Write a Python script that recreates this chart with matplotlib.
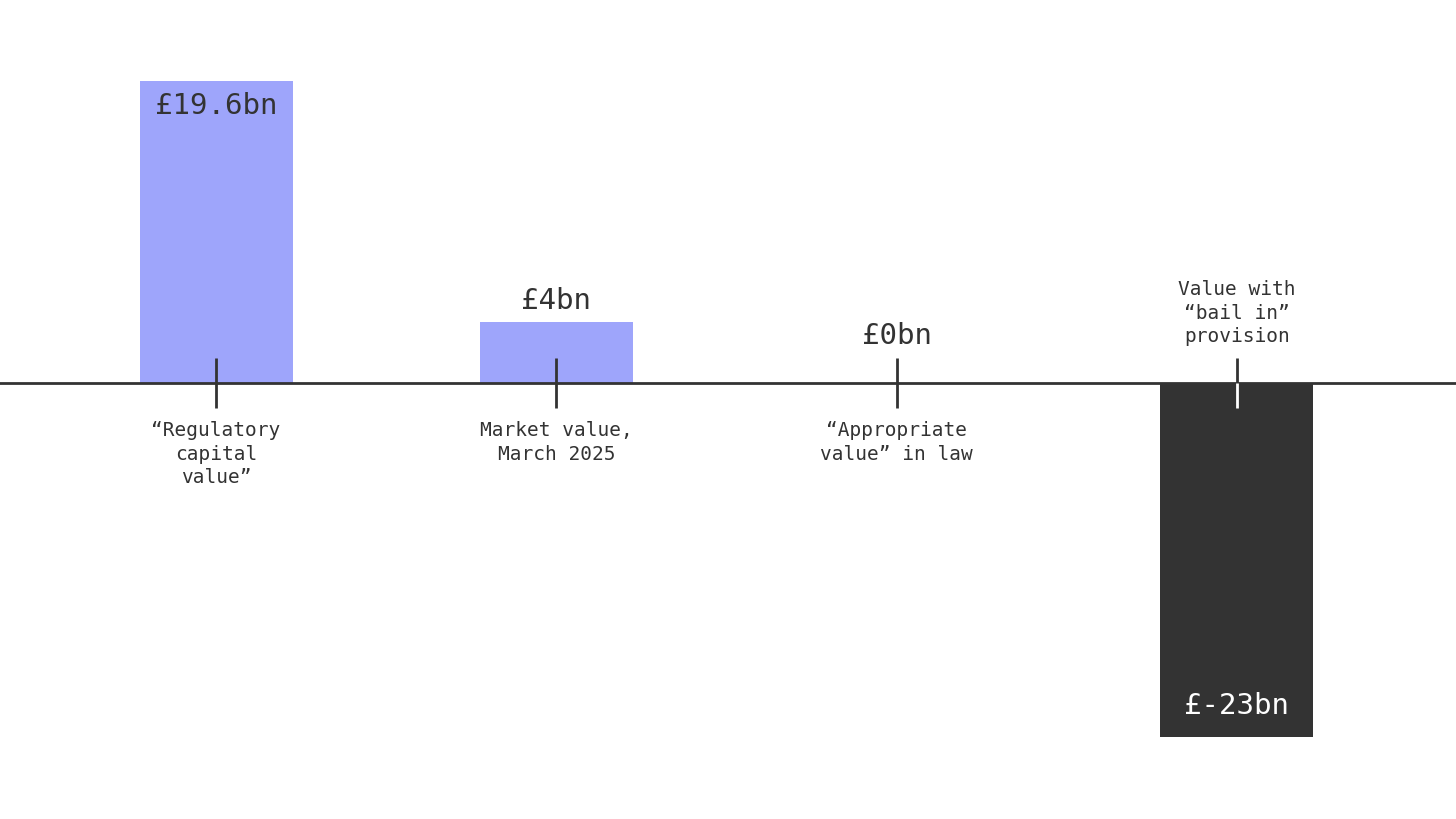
import matplotlib.pyplot as plt
import numpy as np

# Values of the bank under different measures, £bn
categories = ['\u201cRegulatory\ncapital\nvalue\u201d',
              'Market value,\nMarch 2025',
              '\u201cAppropriate\nvalue\u201d in law',
              'Value with\n\u201cbail in\u201d\nprovision']
values = [19.6, 4, 0, -23]
value_labels = ['£19.6bn', '£4bn', '£0bn', '£-23bn']

PURPLE = '#9ea5fb'
DARK = '#333333'
FONT = 'DejaVu Sans Mono'
PX = 72 / 100  # points per pixel at dpi 100

fig = plt.figure(figsize=(14.56, 8.2), dpi=100)
ax = fig.add_axes([0, 0, 1, 1])
ax.set_xlim(-0.635, 3.644)
ax.set_ylim(-28.3, 24.95)
ax.axis('off')

x = np.arange(len(values))
colors = [PURPLE if v >= 0 else DARK for v in values]
ax.bar(x, values, width=0.45, color=colors, zorder=1)
ax.axhline(0, color=DARK, lw=2, zorder=2)

tick = 25 / 15.35  # tick half length in data units
for xi, v, cat, lab in zip(x, values, categories, value_labels):
    # tick mark across the zero line
    ax.plot([xi, xi], [0, tick], color=DARK, lw=2, zorder=3, solid_capstyle='butt')
    ax.plot([xi, xi], [0, -tick], color='white' if v < 0 else DARK, lw=2,
            zorder=3, solid_capstyle='butt')

    if v < 0:
        ax.annotate(cat, (xi, 0), xytext=(0, 38 * PX), textcoords='offset points',
                    ha='center', va='bottom', fontsize=14, family=FONT,
                    color=DARK, linespacing=1.3)
        ax.annotate(lab, (xi, v), xytext=(0, 32 * PX), textcoords='offset points',
                    ha='center', va='center', fontsize=21, family=FONT, color='white')
    else:
        ax.annotate(cat, (xi, 0), xytext=(0, -37 * PX), textcoords='offset points',
                    ha='center', va='top', fontsize=14, family=FONT,
                    color=DARK, linespacing=1.3)
        if v > 10:
            off = -24
        elif v > 0:
            off = 22
        else:
            off = 48
        ax.annotate(lab, (xi, v), xytext=(0, off * PX), textcoords='offset points',
                    ha='center', va='center', fontsize=21, family=FONT, color=DARK)

fig.savefig('out.png', dpi=100)
